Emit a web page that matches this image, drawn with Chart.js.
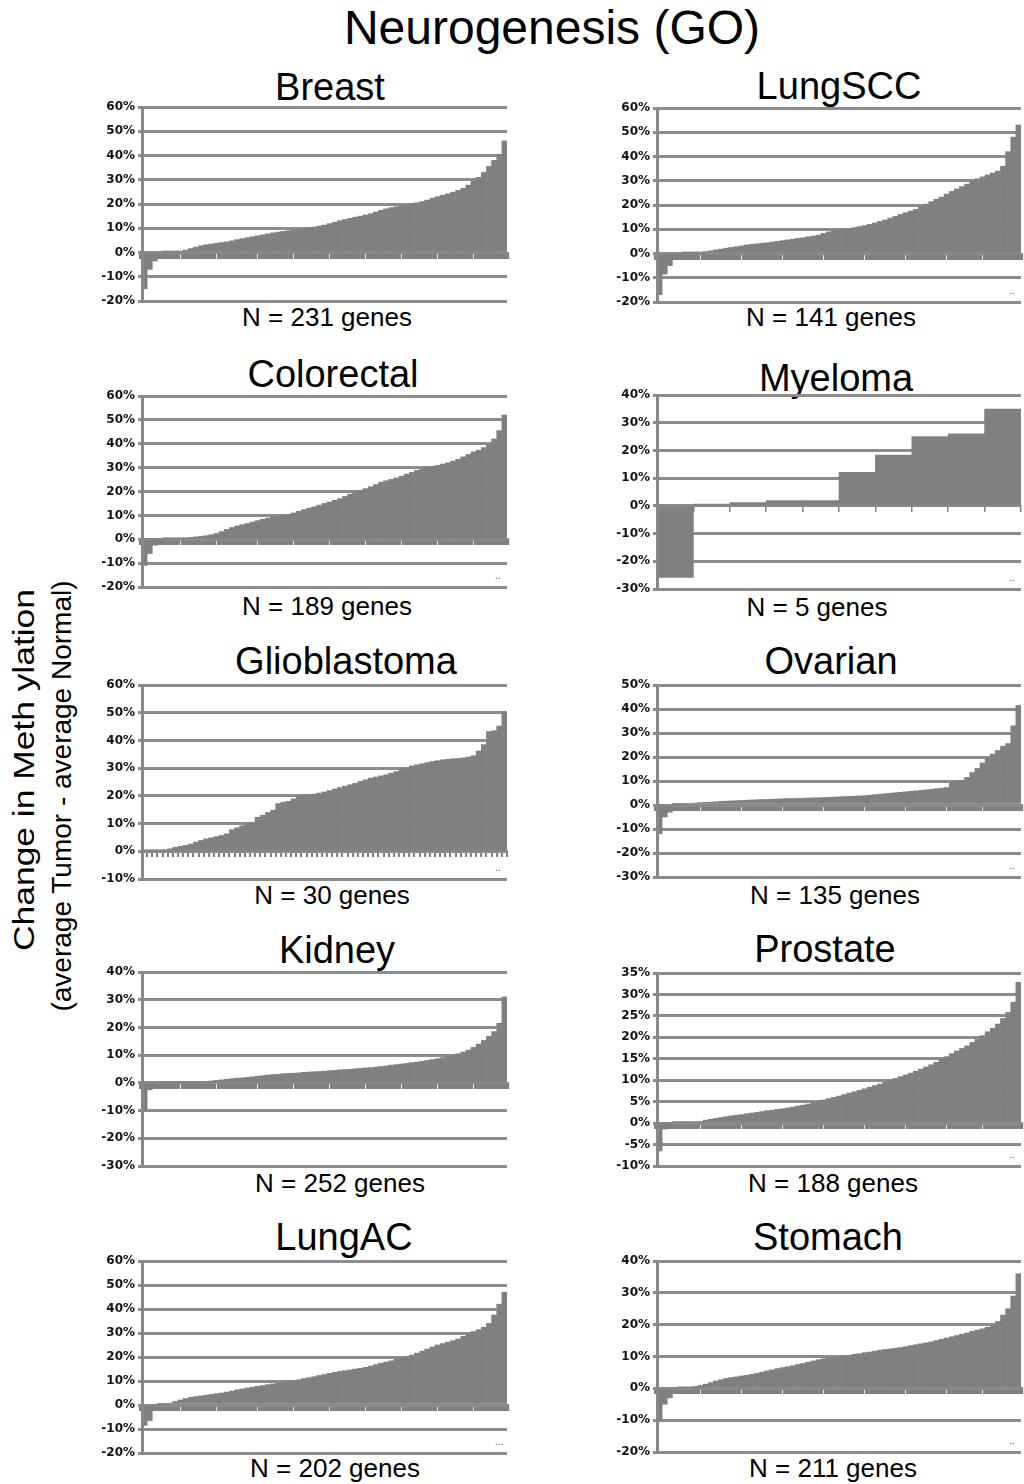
<!DOCTYPE html>
<html><head><meta charset="utf-8">
<script src="https://cdn.jsdelivr.net/npm/chart.js@4.4.1/dist/chart.umd.min.js"></script>
<style>
html,body{margin:0;padding:0;background:#fff;}
body{width:1024px;height:1484px;position:relative;overflow:hidden;font-family:"Liberation Sans",Arial,Helvetica,sans-serif;color:#000;}
.t{position:absolute;white-space:nowrap;line-height:1;transform:translate(-50%,-50%);}
.dots{position:absolute;font-size:10px;color:#555;line-height:1;}
canvas{position:absolute;}
</style></head><body>
<script>
// ---- data ----
const panelTitles = ['Breast','LungSCC','Colorectal','Myeloma','Glioblastoma','Ovarian','Kidney','Prostate','LungAC','Stomach'];
const geneCounts = [231,141,189,5,30,135,252,188,202,211];
const yMins = [-20,-20,-20,-30,-10,-30,-30,-10,-20,-20];
const yMaxs = [60,60,60,40,60,50,40,35,60,40];
const ySteps = [10,10,10,10,10,10,10,5,10,10];

const breast = [-15,-7,-3.5,-1,0.2,0.3,0.4,0.6,1.0,1.6,2.2,2.8,3.2,3.5,3.8,4.1,4.4,4.8,5.3,5.7,6.1,6.5,6.9,7.3,7.7,8.1,8.4,8.7,9.0,9.3,9.6,9.9,10.2,10.5,10.9,11.3,11.9,12.5,13.1,13.6,14.1,14.6,15.0,15.5,16.0,16.7,17.4,18.0,18.5,18.9,19.3,19.7,20.1,20.5,21.0,21.6,22.4,23.0,23.6,24.2,24.9,25.6,26.5,27.8,29.5,31,33,35.5,38,40.5,46];
const lungSCC = [-17,-8.5,-5,-2.2,-0.3,0.1,0.2,0.3,0.5,0.8,1.1,1.5,1.8,2.2,2.5,2.8,3.1,3.5,3.8,4.0,4.2,4.4,4.7,5.0,5.3,5.6,5.9,6.2,6.5,6.9,7.2,7.6,8.3,8.9,9.3,9.7,10.0,10.3,10.7,11.1,11.5,12.0,12.6,13.2,13.8,14.6,15.3,16.1,16.8,17.5,18.2,19.1,20.4,21.4,22.4,23.3,24.5,25.6,26.6,27.6,28.6,29.8,30.8,31.6,32.4,33.2,34,36,42,48,53];
const colorectal = [-11,-6,-2.5,-0.5,0.1,0.2,0.4,0.5,0.6,0.8,1.0,1.2,1.5,1.9,2.4,3.2,4.1,4.9,5.6,6.1,6.6,7.2,7.8,8.4,8.9,9.3,9.7,10.0,10.4,11.0,11.7,12.4,13.0,13.6,14.3,15.0,15.6,16.3,17.0,17.9,18.9,19.8,20.5,21.2,22.0,22.9,23.9,24.5,25.1,25.7,26.4,27.3,28.0,28.9,29.5,30.1,30.5,30.9,31.5,32.0,32.7,33.5,34.5,35.5,36.6,37.3,38.4,40,42,45.5,52];
const myeloma = [-25.8,0.6,1.2,1.9,1.9,12.1,18.3,25,26,34.9];
const glioblastoma = [0.4,0.4,0.5,0.5,0.6,0.9,1.4,1.8,2.1,2.6,3.3,3.9,4.5,4.9,5.3,5.7,6.3,7.8,8.5,9.2,10.0,10.4,12.3,13.0,14.0,14.8,17.2,17.7,18.0,18.9,19.8,20.1,20.4,20.6,21.0,21.4,21.9,22.5,23.0,23.5,24.0,24.5,25.2,25.8,26.4,26.8,27.2,27.6,28.2,28.8,29.5,30.2,30.8,31.2,31.6,32.0,32.4,32.7,33.0,33.2,33.4,33.5,33.7,34.0,34.5,36.2,38.5,43.2,43.5,45.2,50.2];
const ovarian = [-12,-5,-3,0.1,0.3,0.4,0.6,0.8,1.0,1.1,1.2,1.3,1.5,1.6,1.7,1.8,1.9,2.0,2.1,2.2,2.3,2.3,2.4,2.5,2.6,2.7,2.7,2.8,2.8,2.9,3.0,3.0,3.1,3.2,3.3,3.4,3.5,3.6,3.7,3.8,3.9,4.1,4.3,4.5,4.7,4.9,5.1,5.3,5.5,5.7,5.9,6.1,6.3,6.5,6.8,7.0,7.3,9.4,9.9,10.3,11.5,13.5,15.2,17.5,19.5,21.2,22.7,24.5,25.6,33,41.5];
const kidney = [-10,-2.5,-0.2,0.1,0.1,0.1,0.2,0.2,0.2,0.2,0.3,0.4,0.5,0.7,0.9,1.1,1.3,1.5,1.7,1.8,2.0,2.2,2.4,2.6,2.8,3.0,3.1,3.3,3.4,3.5,3.6,3.8,3.9,4.0,4.1,4.2,4.4,4.5,4.7,4.8,4.9,5.1,5.2,5.4,5.5,5.7,5.9,6.1,6.4,6.6,6.8,7.0,7.3,7.5,7.8,8.1,8.4,8.7,9.1,9.5,10.0,10.5,11.1,11.8,12.8,14.0,15.3,16.8,18.5,21.5,31];
const prostate = [-6.5,-1.4,-0.3,0.1,0.1,0.15,0.2,0.25,0.4,0.7,0.9,1.1,1.3,1.5,1.7,1.85,2.0,2.2,2.35,2.5,2.7,2.9,3.0,3.2,3.35,3.55,3.75,4.0,4.2,4.45,4.75,5.05,5.4,5.7,6.0,6.3,6.65,7.0,7.3,7.65,8.0,8.4,8.75,9.1,9.5,9.95,10.4,10.85,11.25,11.65,12.1,12.6,13.1,13.6,14.2,14.9,15.5,16.2,16.8,17.4,18.0,18.8,19.5,20.4,21.3,22.1,23.1,24.4,25.8,28.2,32.8];
const lungAC = [-8.5,-6.5,-1.2,0.2,0.4,0.8,1.5,2.1,2.7,3.2,3.5,3.8,4.1,4.4,4.7,5.0,5.4,5.8,6.3,6.7,7.1,7.4,7.8,8.1,8.5,8.8,9.1,9.4,9.8,10.1,10.5,11.0,11.4,11.8,12.3,12.7,13.2,13.6,14.0,14.3,14.6,15.0,15.3,15.7,16.2,16.8,17.4,17.9,18.4,19.0,19.5,20.1,20.8,21.6,22.4,23.3,24.2,25.0,25.6,26.2,26.8,27.5,28.6,29.7,30.6,31.4,32.4,34,37.5,42,47];
const stomach = [-10,-5,-3,-0.5,0.1,0.2,0.4,0.6,0.9,1.3,1.8,2.3,2.7,3.1,3.4,3.6,3.9,4.1,4.4,4.7,5.1,5.5,5.8,6.2,6.5,6.8,7.1,7.5,7.8,8.2,8.6,9.0,9.3,9.6,9.8,10.0,10.2,10.4,10.7,10.9,11.2,11.4,11.7,12.0,12.2,12.4,12.6,12.8,13.1,13.4,13.7,14.0,14.3,14.6,15.0,15.4,15.8,16.2,16.6,17.0,17.4,17.9,18.3,18.7,19.2,19.8,21,23,25,29,36];

const seriesList = [breast, lungSCC, colorectal, myeloma, glioblastoma, ovarian, kidney, prostate, lungAC, stomach];

// ---- layout (positions / styles only) ----
const layout = [
 {col:0, top:107, bottom:301, tx:330, ty:87,  nx:327, ny:317, tickW:5.2, dots:''},
 {col:1, top:108, bottom:302, tx:839, ty:86,  nx:831, ny:317, tickW:5.2, dots:'..'},
 {col:0, top:396, bottom:587, tx:333, ty:374, nx:327, ny:606, tickW:5.2, dots:'..'},
 {col:1, top:395, bottom:589, tx:836, ty:378, nx:817, ny:607, tickW:1.5, dots:'..'},
 {col:0, top:685, bottom:879, tx:346, ty:661, nx:332, ny:895, tickW:2,   dots:'..'},
 {col:1, top:685, bottom:877, tx:831, ty:661, nx:835, ny:895, tickW:5.2, dots:'..'},
 {col:0, top:972, bottom:1166,tx:337, ty:950, nx:340, ny:1183,tickW:5.2, dots:''},
 {col:1, top:973, bottom:1166,tx:825, ty:949, nx:833, ny:1183,tickW:5.2, dots:'..'},
 {col:0, top:1261,bottom:1453,tx:344, ty:1237,nx:335, ny:1468,tickW:5.2, dots:'...'},
 {col:1, top:1261,bottom:1452,tx:828, ty:1237,nx:833, ny:1468,tickW:5.2, dots:'..'}
];
const colGeom = [
 {left:80,  width:432, axisW:62, padR:5},
 {left:590, width:434, axisW:67, padR:3}
];

function addText(txt, x, y, size, extra) {
  const d = document.createElement('div');
  d.className = 't';
  d.textContent = txt;
  d.style.left = x + 'px';
  d.style.top = y + 'px';
  d.style.fontSize = size + 'px';
  if (extra) d.style.transform = extra;
  document.body.appendChild(d);
  return d;
}

addText('Neurogenesis (GO)', 552, 28, 48);
addText('Change in Meth ylation', 24, 770, 29, 'translate(-50%,-50%) rotate(-90deg) scaleX(1.22)');
addText('(average Tumor - average Normal)', 62, 796, 28, 'translate(-50%,-50%) rotate(-90deg)');

const PAD = 12;
seriesList.forEach((vals, i) => {
  const L = layout[i];
  const G = colGeom[L.col];
  addText(panelTitles[i], L.tx, L.ty, 38);
  addText('N = ' + geneCounts[i] + ' genes', L.nx, L.ny, 26);
  if (L.dots) {
    const d = document.createElement('div');
    d.className = 'dots';
    d.textContent = L.dots;
    d.style.left = (G.left + G.width - G.padR - 12) + 'px';
    d.style.top = (L.bottom - 16) + 'px';
    document.body.appendChild(d);
  }
  const cv = document.createElement('canvas');
  const H = L.bottom - L.top + 2 * PAD;
  cv.width = G.width; cv.height = H;
  cv.style.left = G.left + 'px';
  cv.style.top = (L.top - PAD) + 'px';
  cv.style.width = G.width + 'px';
  cv.style.height = H + 'px';
  document.body.appendChild(cv);
  new Chart(cv, {
    type: 'bar',
    data: {
      labels: vals.map((_, k) => String(k + 1)),
      datasets: [{
        data: vals,
        backgroundColor: '#808080',
        borderWidth: 0,
        barPercentage: 1,
        categoryPercentage: 1
      }]
    },
    options: {
      responsive: false,
      animation: false,
      devicePixelRatio: 1,
      layout: { padding: { top: PAD, bottom: PAD, left: 0, right: G.padR } },
      plugins: { legend: { display: false }, tooltip: { enabled: false }, title: { display: false } },
      scales: {
        x: {
          type: 'category',
          position: { y: 0 },
          offset: true,
          ticks: { display: false },
          grid: { offset: true, drawOnChartArea: false, drawTicks: true, tickLength: 5, color: '#808080', lineWidth: L.tickW },
          border: { display: true, color: '#888888', width: 2 }
        },
        y: {
          min: yMins[i],
          max: yMaxs[i],
          ticks: {
            stepSize: ySteps[i],
            callback: v => v + '%',
            color: '#111111',
            font: { family: 'DejaVu Sans', size: 12, weight: 'bold' },
            padding: 3
          },
          grid: { color: '#8c8c8c', lineWidth: 3, tickLength: 4 },
          border: { color: '#888888', width: 3, z: 1 },
          afterFit: s => { s.width = G.axisW; }
        }
      }
    }
  });
});
</script>
</body></html>
